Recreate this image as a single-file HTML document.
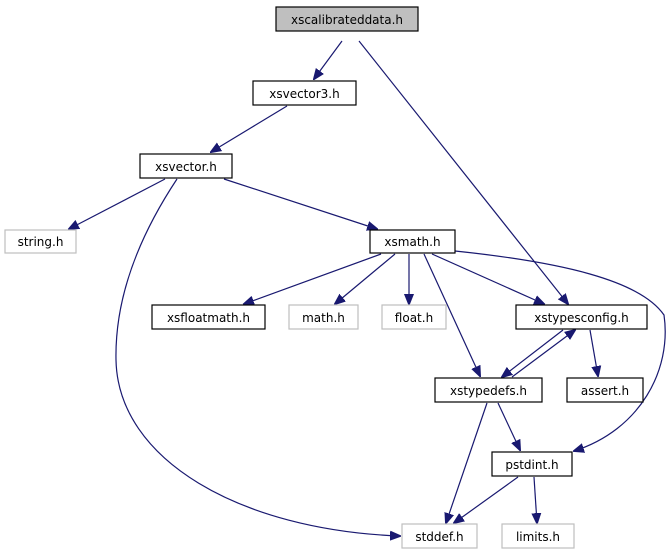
<!DOCTYPE html>
<html><head><meta charset="utf-8"><style>
html,body{margin:0;padding:0;background:#fff;width:671px;height:560px;overflow:hidden}
svg{display:block}
text{font-family:"DejaVu Sans","Liberation Sans",sans-serif;font-size:12px;fill:#000}
</style></head><body>
<svg width="671" height="560" viewBox="0 0 671 560" xmlns="http://www.w3.org/2000/svg">
<defs>
<marker id="a" viewBox="0 0 10 10" refX="9" refY="5" markerWidth="11" markerHeight="11" markerUnits="userSpaceOnUse" orient="auto">
<path d="M0,1 L10,5 L0,9 z" fill="#191970" stroke="#191970"/></marker>
</defs>
<g fill="none" stroke="#191970" stroke-width="1.2" marker-end="url(#a)">
<path d="M342,41 L314,79"/>
<path d="M359,41 L568,304"/>
<path d="M287,106 L211,152"/>
<path d="M165,179 L69,229"/>
<path d="M224,179 L377,229"/>
<path d="M177,179 C130,250 115,310 116,360 C118,460 240,530 400,536"/>
<path d="M381,254 L244,304"/>
<path d="M395,254 L335,304"/>
<path d="M409,254 L409,304"/>
<path d="M424,254 L480,376"/>
<path d="M432,254 L544,304"/>
<path d="M455,251 C560,262 640,280 664,315 C672,370 640,430 574,451"/>
<path d="M563,330 L502,377"/>
<path d="M512,377 L575,330"/>
<path d="M590,330 L598,376"/>
<path d="M487,403 L446,523"/>
<path d="M498,403 L520,450"/>
<path d="M518,477 L454,523"/>
<path d="M534,477 L537,523"/>
</g>
<g stroke-width="1.2">
<rect x="276" y="7" width="142" height="24" fill="#bfbfbf" stroke="#000"/>
<rect x="253" y="81" width="103" height="24" fill="#fff" stroke="#000"/>
<rect x="140" y="154" width="92" height="24" fill="#fff" stroke="#000"/>
<rect x="5" y="230" width="71" height="23" fill="#fff" stroke="#bfbfbf"/>
<rect x="370" y="230" width="85" height="23" fill="#fff" stroke="#000"/>
<rect x="152" y="305" width="113" height="24" fill="#fff" stroke="#000"/>
<rect x="289" y="305" width="69" height="24" fill="#fff" stroke="#bfbfbf"/>
<rect x="382" y="305" width="64" height="24" fill="#fff" stroke="#bfbfbf"/>
<rect x="516" y="305" width="131" height="24" fill="#fff" stroke="#000"/>
<rect x="435" y="378" width="107" height="24" fill="#fff" stroke="#000"/>
<rect x="567" y="378" width="76" height="24" fill="#fff" stroke="#000"/>
<rect x="492" y="452" width="80" height="24" fill="#fff" stroke="#000"/>
<rect x="402" y="524" width="75" height="24" fill="#fff" stroke="#bfbfbf"/>
<rect x="502" y="524" width="72" height="24" fill="#fff" stroke="#bfbfbf"/>
</g>
<g text-anchor="middle">
<text x="347" y="24">xscalibrateddata.h</text>
<text x="304.5" y="98">xsvector3.h</text>
<text x="186" y="171">xsvector.h</text>
<text x="40.5" y="246">string.h</text>
<text x="412.5" y="246">xsmath.h</text>
<text x="208.5" y="322">xsfloatmath.h</text>
<text x="323.5" y="322">math.h</text>
<text x="414" y="322">float.h</text>
<text x="581.5" y="322">xstypesconfig.h</text>
<text x="488.5" y="395">xstypedefs.h</text>
<text x="605" y="395">assert.h</text>
<text x="532" y="469">pstdint.h</text>
<text x="439.5" y="541">stddef.h</text>
<text x="538" y="541">limits.h</text>
</g>
</svg>
</body></html>
